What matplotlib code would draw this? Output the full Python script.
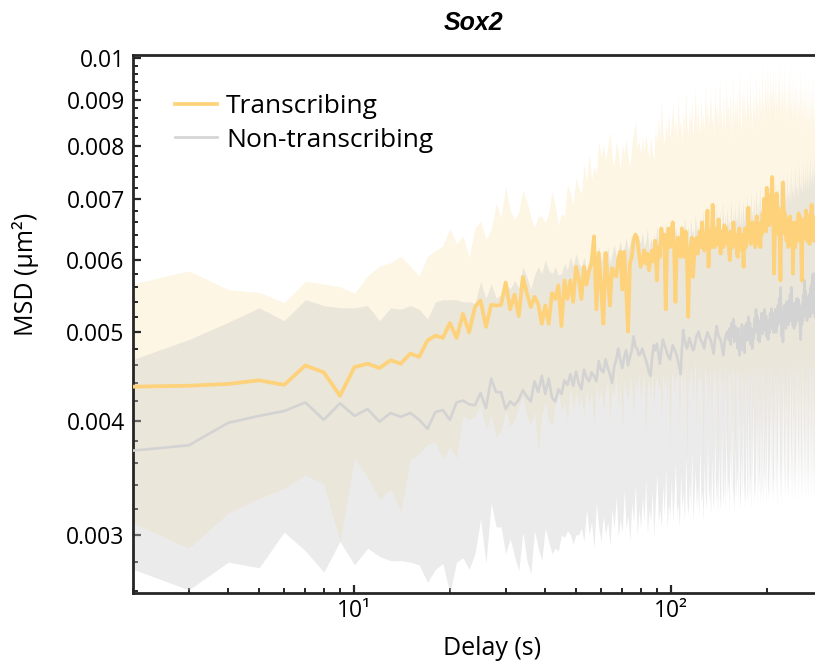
import numpy as np
import matplotlib
matplotlib.use("Agg")
import matplotlib.pyplot as plt
from matplotlib.ticker import FixedLocator, FixedFormatter, NullFormatter

plt.rcParams['font.family'] = ['Open Sans', 'DejaVu Sans']

# Delay axis (s): one point per integer delay
delays = np.arange(2, 285)

# All MSD values below are in units of 1e-3 um^2
trans_mean = [
    4.36, 4.37, 4.39, 4.43, 4.38, 4.60, 4.52, 4.26, 4.58, 4.62,
    4.57, 4.66, 4.62, 4.74, 4.70, 4.90, 4.96, 4.93, 5.12, 4.93,
    5.24, 5.00, 5.33, 5.42, 5.07, 5.36, 5.35, 5.36, 5.67, 5.30,
    5.50, 5.21, 5.75, 5.52, 5.33, 5.47, 5.37, 5.11, 5.35, 5.11,
    5.52, 5.44, 5.63, 5.08, 5.70, 5.44, 5.70, 5.40, 5.90, 5.74,
    5.44, 5.90, 5.64, 5.84, 5.96, 6.37, 5.30, 6.11, 5.60, 5.11,
    6.11, 5.74, 5.35, 5.88, 5.79, 5.76, 6.02, 6.13, 5.57, 6.13,
    5.60, 5.01, 5.95, 6.05, 6.30, 6.40, 6.35, 6.10, 5.90, 6.00,
    6.15, 5.95, 6.10, 5.85, 6.05, 6.15, 5.98, 6.30, 5.70, 6.20,
    6.05, 6.50, 6.25, 6.40, 5.30, 6.30, 6.50, 6.20, 6.45, 6.60,
    6.20, 5.40, 6.15, 6.35, 6.30, 6.05, 6.50, 6.25, 6.05, 6.45,
    6.10, 5.20, 6.00, 6.20, 6.35, 5.75, 6.05, 6.20, 6.35, 6.10,
    6.30, 6.45, 6.20, 6.60, 6.30, 6.15, 6.40, 6.25, 6.80, 5.90,
    6.30, 6.45, 6.20, 6.90, 6.40, 6.20, 6.35, 6.50, 6.25, 6.65,
    6.30, 6.10, 6.45, 6.40, 6.20, 6.55, 6.30, 6.50, 6.25, 6.40,
    6.15, 6.00, 6.45, 6.30, 6.20, 6.60, 6.35, 6.25, 6.40, 6.10,
    6.05, 6.35, 6.50, 6.25, 6.40, 6.15, 6.30, 5.90, 6.35, 6.50,
    6.20, 6.45, 6.30, 6.85, 6.40, 6.55, 6.25, 6.45, 6.60, 6.30,
    6.50, 6.40, 6.20, 6.55, 6.70, 6.35, 6.50, 6.25, 6.45, 6.20,
    6.60, 6.40, 6.75, 6.50, 7.00, 6.60, 6.85, 6.45, 7.20, 6.70,
    6.90, 6.55, 7.05, 6.80, 6.60, 7.10, 7.40, 6.90, 6.50, 5.80,
    6.40, 6.75, 6.55, 7.10, 6.60, 6.85, 6.40, 6.70, 6.30, 5.70,
    6.50, 6.80, 6.45, 7.30, 6.90, 6.60, 6.75, 6.40, 6.55, 6.30,
    6.65, 6.50, 6.20, 6.60, 6.45, 6.70, 6.35, 6.55, 6.25, 6.40,
    5.80, 6.35, 6.60, 6.45, 6.20, 6.55, 6.40, 6.60, 6.30, 6.50,
    6.75, 6.45, 6.70, 6.35, 6.55, 6.20, 5.70, 6.30, 6.55, 6.40,
    6.65, 6.35, 6.50, 6.60, 6.80, 6.45, 6.30, 6.55, 6.70, 6.40,
    6.60, 6.25, 6.50, 6.75, 6.55, 6.90, 6.60, 6.40, 6.70, 6.50,
    6.30, 6.55, 6.35,
]
trans_lo = [
    3.09, 2.90, 3.17, 3.29, 3.37, 3.49, 3.41, 2.95, 3.64, 3.47,
    3.28, 3.37, 3.18, 3.63, 3.68, 3.77, 3.79, 3.63, 3.74, 3.64,
    4.05, 4.01, 4.05, 4.16, 3.92, 4.06, 3.84, 3.90, 4.10, 3.95,
    4.00, 4.15, 4.25, 4.05, 3.95, 4.10, 3.70, 4.05, 4.20, 4.00,
    3.95, 4.15, 4.30, 4.10, 4.20, 4.00, 4.36, 4.10, 4.30, 4.15,
    4.25, 4.05, 4.35, 4.15, 4.30, 3.95, 4.40, 4.20, 4.35, 4.10,
    4.30, 4.45, 4.00, 4.35, 4.25, 4.50, 4.15, 4.40, 3.90, 4.45,
    4.30, 4.20, 4.50, 4.35, 4.05, 4.45, 4.30, 4.55, 4.20, 4.40,
    4.50, 3.85, 4.35, 4.45, 4.25, 4.55, 4.15, 4.40, 4.50, 4.30,
    4.45, 4.00, 4.55, 4.35, 4.50, 4.20, 4.60, 3.70, 4.45, 4.55,
    4.30, 4.50, 4.40, 4.60, 3.95, 4.45, 4.55, 4.25, 4.60, 4.40,
    3.60, 4.50, 4.35, 4.60, 4.45, 4.20, 4.55, 4.65, 3.90, 4.50,
    4.40, 4.60, 4.30, 4.55, 3.50, 4.45, 4.65, 4.35, 4.55, 4.10,
    4.60, 4.45, 3.80, 4.55, 4.40, 4.65, 4.25, 4.55, 3.40, 4.50,
    4.60, 4.35, 4.55, 3.95, 4.65, 4.45, 4.20, 4.60, 3.60, 4.50,
    4.55, 4.30, 4.65, 3.85, 4.50, 4.60, 4.25, 3.30, 4.55, 4.45,
    4.65, 4.10, 4.55, 3.70, 4.60, 4.40, 4.50, 3.45, 4.65, 4.35,
    4.55, 3.90, 4.60, 4.45, 3.55, 4.65, 4.30, 4.55, 3.75, 4.60,
    4.45, 3.40, 4.60, 4.50, 4.20, 3.65, 4.65, 4.40, 3.85, 4.55,
    4.60, 3.50, 4.45, 4.65, 3.95, 4.50, 3.30, 4.60, 4.40, 3.70,
    4.65, 4.35, 3.60, 4.55, 4.70, 3.85, 4.50, 3.40, 4.65, 4.45,
    3.75, 4.60, 4.40, 3.55, 4.70, 4.50, 3.90, 4.65, 3.35, 4.55,
    4.70, 3.65, 4.50, 4.60, 3.45, 4.70, 4.35, 3.80, 4.65, 3.50,
    4.55, 4.70, 3.70, 4.45, 3.40, 4.65, 4.55, 3.60, 4.70, 4.40,
    3.85, 4.60, 3.35, 4.70, 4.50, 3.55, 4.65, 3.75, 4.55, 4.70,
    3.45, 4.60, 4.40, 3.65, 4.70, 3.50, 4.55, 4.65, 3.80, 4.50,
    3.40, 4.70, 4.55, 3.60, 4.65, 3.70, 4.50, 4.70, 3.45, 4.60,
    3.55, 4.65, 4.50, 3.75, 4.70, 3.40, 4.60, 4.55, 3.65, 4.70,
    3.50, 4.60, 4.45,
]
trans_hi = [
    5.65, 5.84, 5.57, 5.53, 5.39, 5.69, 5.65, 5.61, 5.52, 5.77,
    5.91, 5.96, 6.06, 5.91, 5.76, 6.06, 6.15, 6.22, 6.50, 6.25,
    6.38, 6.04, 6.51, 6.62, 6.32, 6.48, 6.92, 6.69, 7.23, 6.80,
    6.65, 6.78, 7.16, 6.96, 6.69, 6.51, 6.70, 6.70, 6.60, 6.75,
    7.15, 6.88, 6.55, 6.75, 6.70, 7.26, 7.10, 6.90, 7.40, 7.20,
    7.10, 7.65, 7.30, 7.85, 7.35, 7.60, 7.45, 8.10, 7.80, 8.05,
    7.70, 8.00, 8.30, 7.75, 7.60, 8.10, 7.90, 7.55, 8.05, 7.85,
    8.15, 7.80, 7.60, 8.00, 8.30, 8.50, 7.95, 8.10, 7.85, 8.20,
    7.90, 8.25, 8.00, 7.75, 8.20, 7.90, 7.70, 8.35, 8.05, 8.60,
    8.10, 8.95, 8.30, 8.00, 8.50, 8.20, 8.70, 8.15, 8.45, 8.90,
    8.25, 8.60, 8.10, 9.10, 8.35, 8.55, 8.05, 8.80, 8.30, 9.20,
    8.40, 8.20, 8.75, 8.45, 9.00, 8.15, 8.60, 9.35, 8.30, 8.85,
    8.50, 8.20, 9.05, 8.40, 8.70, 8.25, 9.40, 8.55, 8.90, 8.35,
    8.80, 9.15, 8.45, 8.70, 8.15, 9.30, 8.60, 8.95, 8.40, 8.75,
    9.50, 8.50, 8.85, 8.20, 9.10, 8.60, 8.30, 9.45, 8.70, 8.90,
    8.35, 9.20, 8.65, 8.05, 9.60, 8.75, 8.45, 9.05, 8.55, 9.30,
    8.40, 8.80, 9.70, 8.60, 8.25, 9.15, 8.70, 9.40, 8.50, 8.95,
    8.30, 9.55, 8.75, 9.00, 8.45, 9.80, 8.60, 8.90, 8.20, 9.35,
    8.65, 9.10, 8.40, 9.65, 8.80, 9.00, 8.35, 9.50, 8.70, 9.20,
    8.55, 9.85, 8.75, 9.05, 8.40, 9.60, 8.90, 9.30, 8.60, 9.95,
    8.80, 9.15, 8.50, 9.70, 8.95, 9.40, 8.65, 9.90, 8.85, 9.25,
    8.45, 9.75, 8.90, 9.10, 8.60, 9.55, 8.80, 9.95, 8.70, 9.30,
    8.50, 9.65, 8.85, 9.20, 8.40, 9.85, 8.75, 9.45, 8.60, 9.10,
    8.30, 9.70, 8.80, 9.35, 8.55, 9.90, 8.70, 9.15, 8.45, 9.60,
    8.65, 9.25, 8.35, 9.80, 8.75, 9.40, 8.50, 9.05, 8.25, 9.55,
    8.60, 9.20, 8.40, 9.75, 8.70, 9.30, 8.20, 9.50, 8.55, 9.10,
    8.35, 9.65, 8.60, 9.25, 8.15, 9.45, 8.50, 8.95, 8.30, 9.55,
    8.45, 9.05, 8.20, 9.40, 8.65, 9.15, 8.35, 9.60, 8.50, 8.90,
    8.25, 9.35, 8.60,
]

nontrans_mean = [
    3.71, 3.76, 3.98, 4.05, 4.10, 4.19, 4.01, 4.18, 4.05, 4.12,
    3.99, 4.08, 4.04, 4.08, 4.01, 3.92, 4.09, 4.11, 4.01, 4.19,
    4.21, 4.17, 4.16, 4.29, 4.13, 4.45, 4.30, 4.30, 4.12, 4.20,
    4.16, 4.22, 4.32, 4.25, 4.20, 4.42, 4.30, 4.48, 4.28, 4.45,
    4.24, 4.20, 4.33, 4.28, 4.43, 4.38, 4.50, 4.37, 4.53, 4.40,
    4.33, 4.55, 4.46, 4.42, 4.52, 4.48, 4.42, 4.65, 4.55, 4.52,
    4.67, 4.57, 4.50, 4.40, 4.58, 4.67, 4.80, 4.66, 4.57, 4.70,
    4.78, 4.60, 4.70, 4.78, 4.95, 4.82, 4.80, 4.72, 4.74, 4.80,
    4.73, 4.67, 4.60, 4.52, 4.48, 4.70, 4.84, 4.78, 4.86, 4.75,
    4.62, 4.78, 4.91, 4.85, 4.80, 4.74, 4.70, 4.67, 4.76, 4.84,
    4.80, 4.76, 4.72, 4.65, 4.58, 4.50, 4.80, 5.03, 4.92, 4.85,
    4.80, 4.86, 4.93, 4.88, 4.82, 4.78, 4.80, 4.88, 4.95, 4.98,
    5.01, 4.94, 4.90, 4.88, 4.84, 4.80, 4.90, 4.95, 5.00, 4.96,
    4.93, 4.91, 4.85, 4.80, 4.74, 4.88, 4.98, 5.08, 5.00, 4.95,
    4.93, 4.91, 4.85, 4.78, 4.72, 4.85, 4.93, 4.97, 5.01, 4.95,
    4.90, 5.05, 4.85, 5.12, 4.95, 5.17, 4.88, 5.08, 4.92, 5.02,
    4.80, 5.05, 4.72, 4.95, 4.78, 5.10, 4.86, 5.01, 4.75, 5.08,
    4.95, 5.12, 4.90, 5.20, 5.00, 5.12, 4.85, 5.05, 4.80, 5.00,
    4.92, 5.18, 5.00, 5.30, 5.05, 5.20, 4.90, 5.10, 4.88, 5.15,
    5.00, 5.25, 4.98, 5.15, 5.05, 5.30, 5.02, 5.21, 4.95, 5.12,
    4.91, 5.15, 5.00, 5.25, 5.05, 5.31, 5.10, 5.25, 5.00, 5.22,
    5.05, 5.30, 5.00, 5.20, 5.08, 5.35, 5.12, 5.45, 5.15, 5.60,
    5.20, 4.95, 5.25, 4.88, 5.18, 5.35, 5.10, 5.30, 5.05, 5.40,
    5.15, 5.35, 5.10, 5.42, 5.20, 5.50, 5.15, 5.60, 5.25, 5.38,
    5.08, 5.30, 5.05, 5.35, 5.10, 5.40, 5.15, 5.45, 5.20, 5.38,
    5.43, 5.15, 5.35, 5.00, 4.91, 5.25, 5.10, 5.38, 5.15, 5.50,
    5.25, 5.70, 5.30, 5.55, 5.20, 5.45, 5.15, 5.40, 5.20, 5.48,
    5.25, 5.50, 5.20, 5.60, 5.30, 5.65, 5.25, 5.78, 5.35, 5.80,
    5.30, 5.55, 5.20,
]
nontrans_lo = [
    2.75, 2.61, 2.80, 2.76, 3.02, 2.88, 2.73, 2.95, 2.78, 2.90,
    2.84, 2.81, 2.81, 2.80, 2.78, 2.66, 2.75, 2.79, 2.59, 2.80,
    2.83, 2.75, 2.86, 3.12, 2.79, 3.25, 3.06, 3.06, 2.86, 2.97,
    2.84, 2.74, 3.02, 2.81, 2.72, 3.03, 2.90, 2.81, 3.05, 2.95,
    2.86, 2.90, 2.88, 3.00, 2.98, 3.03, 3.00, 2.93, 3.00, 3.00,
    3.05, 2.95, 3.20, 3.00, 3.10, 2.90, 3.25, 3.05, 2.95, 3.15,
    3.00, 3.10, 2.92, 3.20, 3.05, 3.30, 2.98, 3.12, 3.02, 3.35,
    3.05, 3.15, 2.95, 3.25, 3.10, 3.40, 3.00, 3.20, 3.05, 3.30,
    3.10, 3.45, 3.00, 3.20, 3.10, 3.35, 2.98, 3.25, 3.50, 3.10,
    3.20, 3.05, 3.40, 3.15, 3.55, 3.05, 3.25, 3.15, 3.45, 3.10,
    3.30, 3.60, 3.15, 3.25, 3.05, 3.50, 3.20, 3.35, 3.10, 3.65,
    3.25, 3.15, 3.45, 3.20, 3.70, 3.10, 3.30, 3.55, 3.20, 3.40,
    3.15, 3.75, 3.25, 3.35, 3.10, 3.60, 3.30, 3.20, 3.80, 3.25,
    3.40, 3.15, 3.65, 3.30, 3.20, 3.85, 3.25, 3.45, 3.15, 3.70,
    3.30, 3.20, 3.90, 3.35, 3.25, 3.60, 3.20, 3.95, 3.30, 3.45,
    3.20, 3.75, 3.35, 4.00, 3.25, 3.40, 3.15, 3.85, 3.30, 3.55,
    3.25, 4.05, 3.35, 3.20, 3.70, 3.30, 4.10, 3.25, 3.45, 3.20,
    3.90, 3.35, 3.25, 4.15, 3.30, 3.50, 3.20, 3.95, 3.35, 4.20,
    3.25, 3.45, 3.30, 4.00, 3.20, 4.25, 3.35, 3.55, 3.25, 4.10,
    3.30, 3.40, 4.30, 3.25, 3.60, 3.35, 4.05, 3.20, 4.35, 3.40,
    3.30, 3.65, 3.25, 4.20, 3.35, 4.40, 3.30, 3.50, 3.25, 4.15,
    3.35, 4.45, 3.30, 3.70, 3.20, 4.30, 3.40, 4.50, 3.30, 3.60,
    3.25, 4.25, 3.35, 4.55, 3.30, 3.75, 3.25, 4.40, 3.35, 4.60,
    3.30, 3.55, 3.25, 4.35, 3.40, 4.65, 3.30, 3.80, 3.25, 4.45,
    3.35, 4.60, 3.30, 3.65, 3.25, 4.50, 3.40, 4.70, 3.30, 3.85,
    3.25, 4.40, 3.35, 4.65, 3.30, 3.70, 3.25, 4.55, 3.40, 4.75,
    3.30, 3.90, 3.25, 4.45, 3.35, 4.70, 3.30, 3.60, 3.25, 4.60,
    3.40, 4.75, 3.30, 3.95, 3.25, 4.50, 3.35, 4.80, 3.30, 3.70,
    3.25, 4.55, 3.40,
]
nontrans_hi = [
    4.67, 4.91, 5.13, 5.32, 5.15, 5.43, 5.35, 5.32, 5.32, 5.35,
    5.15, 5.32, 5.30, 5.35, 5.30, 5.17, 5.40, 5.43, 5.43, 5.43,
    5.40, 5.40, 5.38, 5.68, 5.45, 5.65, 5.45, 5.50, 5.65, 5.58,
    5.70, 5.60, 5.90, 5.75, 5.58, 5.78, 5.90, 5.80, 6.00, 5.85,
    5.80, 5.90, 5.78, 5.80, 5.95, 5.85, 6.05, 5.90, 6.10, 5.95,
    5.90, 6.05, 5.85, 6.00, 6.15, 5.95, 6.10, 6.20, 5.98, 6.15,
    6.05, 6.20, 5.95, 6.10, 6.25, 6.05, 6.15, 6.30, 6.10, 6.20,
    6.35, 6.15, 6.25, 6.40, 6.20, 6.30, 6.10, 6.35, 6.25, 6.45,
    6.20, 6.30, 6.50, 6.15, 6.35, 6.25, 6.40, 6.20, 6.55, 6.30,
    6.35, 6.20, 6.45, 6.30, 6.60, 6.25, 6.40, 6.30, 6.50, 6.35,
    6.25, 6.55, 6.35, 6.45, 6.20, 6.60, 6.40, 6.30, 6.70, 6.45,
    6.35, 6.55, 6.25, 6.65, 6.40, 6.50, 6.30, 6.75, 6.45, 6.55,
    6.35, 6.70, 6.50, 6.40, 6.80, 6.45, 6.60, 6.35, 6.75, 6.50,
    6.40, 6.85, 6.55, 6.45, 6.70, 6.35, 6.90, 6.50, 6.60, 6.45,
    6.80, 6.55, 6.40, 6.95, 6.60, 6.50, 6.75, 6.45, 6.85, 6.55,
    6.65, 6.40, 7.00, 6.60, 6.50, 6.80, 6.45, 6.90, 6.60, 6.70,
    6.50, 7.05, 6.65, 6.55, 6.85, 6.50, 7.00, 6.70, 6.60, 6.95,
    6.55, 7.10, 6.75, 6.60, 6.90, 6.55, 7.15, 6.70, 6.80, 6.60,
    7.05, 6.75, 6.65, 7.20, 6.80, 6.60, 6.95, 6.70, 7.25, 6.75,
    6.85, 6.65, 7.15, 6.80, 6.70, 7.30, 6.85, 6.95, 6.70, 7.20,
    6.80, 6.90, 6.75, 7.35, 6.85, 6.95, 6.70, 7.25, 6.90, 7.00,
    6.80, 7.40, 6.90, 7.05, 6.75, 7.30, 6.95, 6.85, 7.45, 7.00,
    6.90, 7.20, 6.80, 7.50, 7.05, 6.95, 7.35, 6.90, 7.10, 6.85,
    7.55, 7.00, 7.15, 6.90, 7.40, 7.05, 6.95, 7.60, 7.10, 7.20,
    6.95, 7.45, 7.10, 7.00, 7.65, 7.15, 7.25, 7.00, 7.50, 7.15,
    7.05, 7.70, 7.20, 7.30, 7.05, 7.55, 7.20, 7.10, 7.75, 7.25,
    7.35, 7.10, 7.60, 7.25, 7.15, 7.80, 7.30, 7.40, 7.15, 7.65,
    7.30, 7.20, 7.85, 7.35, 7.45, 7.20, 7.70, 7.35, 7.25, 7.90,
    7.40, 7.50, 7.30,
]

series_labels = ["Transcribing", "Non-transcribing"]
y_tick_values = [0.003, 0.004, 0.005, 0.006, 0.007, 0.008, 0.009, 0.01]
y_tick_labels = ["0.003", "0.004", "0.005", "0.006", "0.007", "0.008", "0.009", "0.01"]
x_tick_values = [10, 100]
x_tick_labels = ["10\u00b9", "10\u00b2"]

scale = 1e-3
tm, tl, th = (np.array(a) * scale for a in (trans_mean, trans_lo, trans_hi))
nm, nl, nh = (np.array(a) * scale for a in (nontrans_mean, nontrans_lo, nontrans_hi))

YELLOW = "#FDD27A"
GRAY = "#D3D3D3"

fig = plt.figure(figsize=(8.15, 6.65), dpi=100)
ax = fig.add_axes([133 / 815, 72 / 665, 682 / 815, 538 / 665])

ax.fill_between(delays, tl, th, color=YELLOW, alpha=0.2, linewidth=0, zorder=1)
ax.fill_between(delays, nl, nh, color="#CCCCCC", alpha=0.38, linewidth=0, zorder=2)
ln_n, = ax.plot(delays, nm, color=GRAY, lw=1.9, zorder=3, label=series_labels[1])
ln_t, = ax.plot(delays, tm, color=YELLOW, lw=2.7, zorder=4, label=series_labels[0])

ax.set_xscale("log")
ax.set_yscale("log")
ax.set_xlim(2, 284)
ax.set_ylim(0.00259, 0.01007)

ax.xaxis.set_major_locator(FixedLocator(x_tick_values))
ax.xaxis.set_major_formatter(FixedFormatter(x_tick_labels))
xminor = [2, 3, 4, 5, 6, 7, 8, 9, 20, 30, 40, 50, 60, 70, 80, 90, 200]
ax.xaxis.set_minor_locator(FixedLocator(xminor))
ax.xaxis.set_minor_formatter(NullFormatter())

ax.yaxis.set_major_locator(FixedLocator(y_tick_values))
ax.yaxis.set_major_formatter(FixedFormatter(y_tick_labels))
yminor = [v for v in np.round(np.arange(0.0026, 0.01001, 0.0002), 5)
          if not any(abs(v - m) < 1e-7 for m in y_tick_values)]
ax.yaxis.set_minor_locator(FixedLocator(yminor))
ax.yaxis.set_minor_formatter(NullFormatter())

SPINE = "#262626"
for s in ("left", "bottom", "top"):
    ax.spines[s].set_linewidth(2.0)
    ax.spines[s].set_color(SPINE)
ax.spines["right"].set_visible(False)

ax.tick_params(axis="both", which="major", direction="in", length=6, width=1.6,
               color=SPINE, labelsize=16.5, labelcolor="black")
ax.tick_params(axis="both", which="minor", direction="in", length=3.8, width=1.4, color=SPINE)
ax.tick_params(axis="y", which="major", pad=6)
ax.tick_params(axis="x", which="major", pad=4)
ax.tick_params(top=False, right=False, which="both")

ax.set_xlabel("Delay (s)", fontsize=18)
ax.set_ylabel("MSD (\u03bcm\u00b2)", fontsize=18)
ax.xaxis.set_label_coords(0.526, -0.08)
ax.yaxis.set_label_coords(-0.138, 0.593)

ax.set_title("Sox2", fontsize=18, fontweight="bold", fontstyle="italic",
             family=["Liberation Sans", "DejaVu Sans"], pad=18)

leg = ax.legend(handles=[ln_t, ln_n], loc="upper left", bbox_to_anchor=(0.061, 0.927),
                frameon=False, fontsize=19, handlelength=1.6, handletextpad=0.35,
                labelspacing=0.32, borderpad=0, borderaxespad=0)

fig.savefig("out.png", dpi=100)
